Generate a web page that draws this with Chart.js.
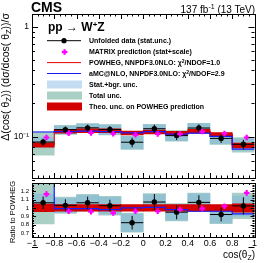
<!DOCTYPE html>
<html>
<head>
<meta charset="utf-8">
<script src="https://cdn.jsdelivr.net/npm/chart.js@4.4.0/dist/chart.umd.min.js"></script>
<style>
  html, body { margin: 0; padding: 0; background: #fff; }
  #wrap { position: relative; width: 266px; height: 263px; overflow: hidden; }
  canvas, svg { position: absolute; left: 0; top: 0; }
  svg text { font-family: "Liberation Sans", Arial, sans-serif; fill: #000; }
</style>
</head>
<body>
<div id="wrap">
  <canvas id="main" width="266" height="263"></canvas>
  <canvas id="ratio" width="266" height="263"></canvas>
  <svg width="266" height="263">
    <text x="31" y="12" font-size="14" font-weight="bold">CMS</text>
    <text x="255" y="12.5" font-size="10" text-anchor="end">137 fb<tspan dy="-3.5" font-size="7">-1</tspan><tspan dy="3.5"> (13 TeV)</tspan></text>

    <!-- axis titles -->
    <text transform="translate(9,13) rotate(-90)" font-size="10.5" text-anchor="end">Δ(cos( θ<tspan dy="2" font-size="7.5">Z</tspan><tspan dy="-2">)) (dσ/dcos( θ</tspan><tspan dy="2" font-size="7.5">Z</tspan><tspan dy="-2">))/σ</tspan></text>
    <text transform="translate(15,181) rotate(-90)" font-size="7.5" text-anchor="end">Ratio to POWHEG</text>
    <text x="255" y="258" font-size="10" text-anchor="end">cos(θ<tspan dy="2" font-size="7">Z</tspan><tspan dy="-2">)</tspan></text>

    <!-- legend -->
    <text x="48" y="31" font-size="12" font-weight="bold">pp <tspan font-weight="normal">→</tspan> W<tspan dy="-4" font-size="8">+</tspan><tspan dy="4">Z</tspan></text>
    <line x1="47" y1="40.7" x2="81" y2="40.7" stroke="#000" stroke-width="1"/>
    <circle cx="64" cy="40.7" r="2.6" fill="#000"/>
    <rect x="63.5" y="49.2" width="2.2" height="5.6" fill="#ff00ff"/>
    <rect x="61.8" y="50.9" width="5.6" height="2.2" fill="#ff00ff"/>
    <line x1="47" y1="62.6" x2="81" y2="62.6" stroke="#e00000" stroke-width="1"/>
    <line x1="47" y1="73.5" x2="81" y2="73.5" stroke="#1a1aff" stroke-width="1"/>
    <rect x="47" y="80.5" width="35" height="8" fill="rgb(197,221,243)"/>
    <rect x="47" y="91.5" width="35" height="8" fill="rgb(170,208,198)"/>
    <rect x="47" y="102.5" width="35" height="8" fill="#d30000"/>
    <g font-size="7" font-weight="bold">
      <text x="89" y="43.2">Unfolded data (stat.unc.)</text>
      <text x="89" y="54.1">MATRIX prediction (stat+scale)</text>
      <text x="89" y="65.1">POWHEG, NNPDF3.0NLO: χ<tspan dy="-2.5" font-size="5">2</tspan><tspan dy="2.5">/NDOF=1.0</tspan></text>
      <text x="89" y="76">aMC@NLO, NNPDF3.0NLO: χ<tspan dy="-2.5" font-size="5">2</tspan><tspan dy="2.5">/NDOF=2.9</tspan></text>
      <text x="89" y="87">Stat.+bgr. unc.</text>
      <text x="89" y="98">Total unc.</text>
      <text x="89" y="109">Theo. unc. on POWHEG prediction</text>
    </g>
  </svg>
</div>
<script>
// bins in cos(theta_Z)
const binEdges = [-1, -0.8, -0.6, -0.4, -0.2, 0, 0.2, 0.4, 0.6, 0.8, 1];

// unfolded data, normalised
const dataVals = [0.0892, 0.1155, 0.1200, 0.1160, 0.0888, 0.1178, 0.1020, 0.1195, 0.0962, 0.0850];
// relative uncertainties
const dataStat = [0.07, 0.07, 0.07, 0.07, 0.10, 0.09, 0.09, 0.08, 0.09, 0.10];
const statBgr = [0.10, 0.085, 0.085, 0.10, 0.13, 0.085, 0.10, 0.095, 0.11, 0.12];
const totalUnc = [0.24, 0.095, 0.095, 0.11, 0.14, 0.095, 0.11, 0.105, 0.12, 0.15];

// predictions
const powheg = [0.0840, 0.1120, 0.1130, 0.1130, 0.1080, 0.1100, 0.1075, 0.1120, 0.1045, 0.0830];
const theoUnc = [0.045, 0.04, 0.04, 0.04, 0.04, 0.04, 0.04, 0.04, 0.04, 0.05];
const matrix = [0.098, 0.1075, 0.108, 0.106, 0.1037, 0.1056, 0.1054, 0.111, 0.1066, 0.098];
const amcnlo = [0.110, 0.111, 0.112, 0.1107, 0.108, 0.1107, 0.1054, 0.1075, 0.1003, 0.077];

// tick labels
const xLabels = [-1, -0.8, -0.6, -0.4, -0.2, 0, 0.2, 0.4, 0.6, 0.8, 1];
const mainYLabels = [[0.1, '10⁻¹'], [1, '1']];
const ratioLabels = [0.7, 0.8, 0.9, 1, 1.1, 1.2];

const centers = binEdges.slice(0, -1).map((e, i) => (e + binEdges[i + 1]) / 2);
const r2 = v => Math.round(v * 100) / 100;

// y tick positions (minor ones too)
const mainYTicks = [];
[0.01, 0.1].forEach(d => { for (let k = 1; k <= 9; k++) mainYTicks.push(d * k) });
mainYTicks.push(1);
const ratioTicks = [];
for (let i = 33; i <= 64; i++) ratioTicks.push(r2(i * 0.02));

Chart.defaults.font.family = '"Liberation Sans", Arial, sans-serif';
Chart.defaults.color = '#000';

function band(vals, rel, color, order) {
  return {
    type: 'bar', order: order, grouped: false,
    data: centers.map((c, i) => ({ x: c, y: [vals[i] * (1 - rel[i]), vals[i] * (1 + rel[i])] })),
    backgroundColor: color, borderWidth: 0, barPercentage: 1, categoryPercentage: 1
  };
}

function steps(vals, color, width, order) {
  const pts = [];
  vals.forEach((v, i) => { pts.push({ x: binEdges[i], y: v }, { x: binEdges[i + 1], y: v }) });
  return { type: 'line', order: order, data: pts, borderColor: color, borderWidth: width, pointRadius: 0, fill: false };
}

function errorBars(vals, rel, order) {
  const pts = [];
  centers.forEach((c, i) => {
    pts.push({ x: c, y: vals[i] * (1 - rel[i]) }, { x: c, y: vals[i] * (1 + rel[i]) }, { x: c, y: null });
    pts.push({ x: binEdges[i], y: vals[i] }, { x: binEdges[i + 1], y: vals[i] }, { x: c, y: null });
  });
  return { type: 'line', order: order, data: pts, borderColor: '#000', borderWidth: 1, pointRadius: 0, spanGaps: false, fill: false };
}

function markers(vals, shift, style, order) {
  const d = {
    type: 'line', order: order, showLine: false,
    data: centers.map((c, i) => ({ x: c + shift, y: vals[i] }))
  };
  if (style == 'dot') {
    Object.assign(d, { pointRadius: 2.7, pointBackgroundColor: '#000', pointBorderWidth: 0 });
  } else {
    Object.assign(d, { pointStyle: 'cross', pointRadius: 2.8, pointBorderColor: '#ff00ff', pointBorderWidth: 2.2 });
  }
  return d;
}

function datasets(d, p, m, a, theo) {
  return [
    band(d, totalUnc, 'rgb(170,208,198)', 8),
    band(d, statBgr, 'rgba(110,170,225,0.4)', 7),
    band(p, theo, '#d30000', 6),
    steps(p, '#e00000', 1, 5),
    steps(a, '#1a1aff', 1.2, 4),
    errorBars(d, dataStat, 3),
    markers(d, 0, 'dot', 2),
    markers(m, 0.03, 'cross', 1)
  ];
}

// frame with inside ticks on all four sides; x minor ticks every 0.05
function frame(isMajorY, yMajor, yMinor, xMajor, xMinor) {
  return {
    id: 'frame',
    afterDatasetsDraw(chart) {
      const ctx = chart.ctx, a = chart.chartArea;
      const xs = chart.scales.x, ys = chart.scales.y;
      ctx.save();
      ctx.strokeStyle = '#000';
      ctx.lineWidth = 1;
      ctx.beginPath();
      for (let i = 0; i <= 40; i++) {
        const px = Math.round(xs.getPixelForValue(-1 + i * 0.05)) + 0.5;
        const len = i % 4 == 0 ? xMajor : xMinor;
        ctx.moveTo(px, a.bottom); ctx.lineTo(px, a.bottom - len);
        ctx.moveTo(px, a.top); ctx.lineTo(px, a.top + len);
      }
      ys.ticks.forEach(t => {
        const py = Math.round(ys.getPixelForValue(t.value)) + 0.5;
        const len = isMajorY(t.value) ? yMajor : yMinor;
        ctx.moveTo(a.left, py); ctx.lineTo(a.left + len, py);
        ctx.moveTo(a.right, py); ctx.lineTo(a.right - len, py);
      });
      ctx.stroke();
      ctx.strokeRect(Math.round(a.left) + 0.5, Math.round(a.top) + 0.5, Math.round(a.right - a.left), Math.round(a.bottom - a.top));
      ctx.restore();
    }
  };
}

const baseOpts = {
  responsive: false, animation: false, devicePixelRatio: 1,
  plugins: { legend: { display: false }, tooltip: { enabled: false } }
};

// upper panel
new Chart(document.getElementById('main'), {
  type: 'bar',
  data: { datasets: datasets(dataVals, powheg, matrix, amcnlo, theoUnc) },
  options: Object.assign({}, baseOpts, {
    layout: { padding: { left: 0, right: 11.5, top: 14, bottom: 85 } },
    scales: {
      x: {
        type: 'linear', min: -1, max: 1, offset: false,
        afterBuildTicks: s => { s.ticks = xLabels.map(v => ({ value: v })) },
        afterFit: s => { s.height = 0 },
        ticks: { display: false },
        grid: { display: false, drawTicks: false }, border: { display: false }
      },
      y: {
        type: 'logarithmic', min: 0.042, max: 1.3,
        afterBuildTicks: s => { s.ticks = mainYTicks.map(v => ({ value: v })) },
        afterFit: s => { s.width = 32 },
        ticks: {
          autoSkip: false, padding: 3, font: { size: 8.5 },
          callback: v => {
            const l = mainYLabels.find(m => Math.abs(m[0] - v) < 1e-9);
            return l ? l[1] : '';
          }
        },
        grid: { display: false, drawTicks: false }, border: { display: false }
      }
    }
  }),
  plugins: [frame(v => Math.abs(Math.log10(v) - Math.round(Math.log10(v))) < 1e-6, 6, 3, 5, 2.5)]
});

// lower panel: ratio to POWHEG
const ratio = arr => arr.map((v, i) => v / powheg[i]);
new Chart(document.getElementById('ratio'), {
  type: 'bar',
  data: { datasets: datasets(ratio(dataVals), powheg.map(() => 1), ratio(matrix), ratio(amcnlo), theoUnc) },
  options: Object.assign({}, baseOpts, {
    layout: { padding: { left: 0, right: 11.5, top: 183, bottom: 0 } },
    scales: {
      x: {
        type: 'linear', min: -1, max: 1, offset: false,
        afterBuildTicks: s => { s.ticks = xLabels.map(v => ({ value: v })) },
        afterFit: s => { s.height = 26 },
        ticks: {
          autoSkip: false, maxRotation: 0, padding: 1, font: { size: 9 },
          callback: v => String(r2(v)).replace('-', '−')
        },
        grid: { display: false, drawTicks: false }, border: { display: false }
      },
      y: {
        type: 'linear', min: 0.65, max: 1.3,
        afterBuildTicks: s => { s.ticks = ratioTicks.map(v => ({ value: v })) },
        afterFit: s => { s.width = 32 },
        ticks: {
          autoSkip: false, padding: 3, font: { size: 6 },
          callback: v => ratioLabels.some(l => Math.abs(l - v) < 1e-6) ? String(r2(v)) : ''
        },
        grid: { display: false, drawTicks: false }, border: { display: false }
      }
    }
  }),
  plugins: [frame(v => Math.abs(v * 10 - Math.round(v * 10)) < 1e-6, 4, 2, 4, 2)]
});
</script>
</body>
</html>
